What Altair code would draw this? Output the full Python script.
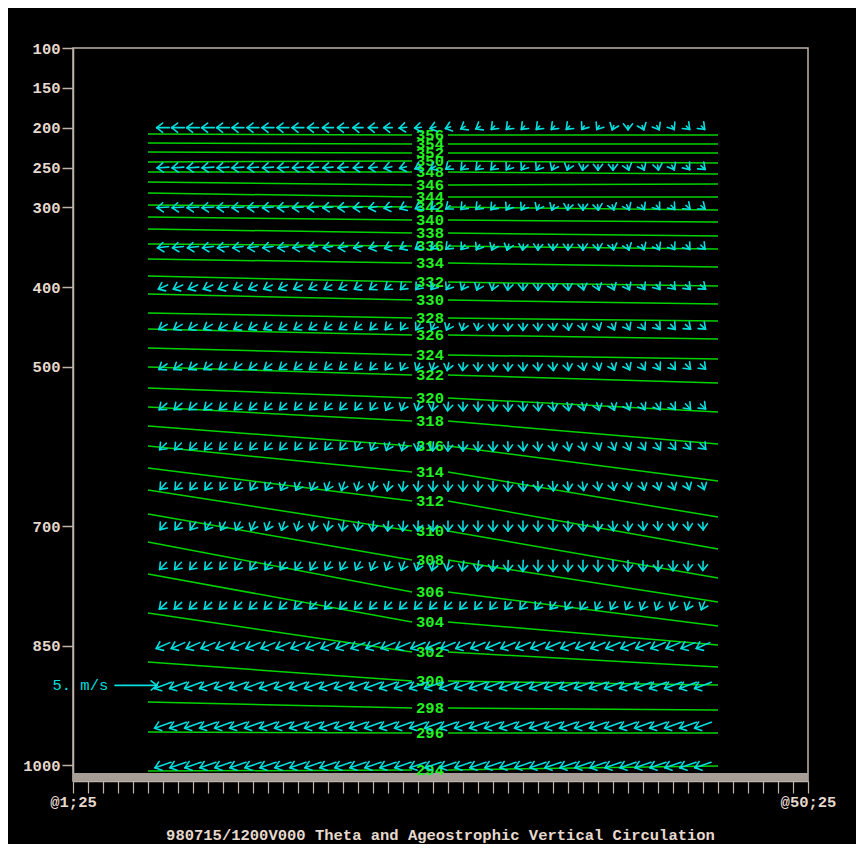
import math
import altair as alt
import pandas as pd

# ---------------- data ----------------
THETA = [356, 354, 352, 350, 348, 346, 344, 342, 340, 338, 336, 334, 332, 330, 328, 326,
         324, 322, 320, 318, 316, 314, 312, 310, 308, 306, 304, 302, 300, 298, 296, 294]
# pressure (hPa) of each isentrope at the left end, at the label and at the right end
P_LEFT = [207.9, 219.2, 230.5, 243.1, 255.6, 268.2, 282.0, 297.1, 312.1, 327.2, 346.0, 364.8, 386.2, 408.8, 432.6, 452.7,
          476.5, 500.4, 526.7, 550.6, 574.4, 599.5, 627.2, 654.8, 684.9, 720.0, 760.2, 809.2, 870.7, 920.9, 958.5, 1007.5]
P_MID = [209.2, 220.5, 231.8, 241.8, 255.6, 272.0, 287.0, 299.6, 315.9, 332.2, 348.5, 369.9, 393.7, 416.3, 438.9, 460.2,
         485.3, 510.4, 539.3, 568.2, 599.5, 632.2, 668.6, 706.2, 742.6, 782.8, 820.4, 858.1, 894.5, 928.4, 959.8, 1006.2]
P_RIGHT = [209.2, 220.5, 231.8, 244.3, 258.1, 270.7, 287.0, 303.3, 318.4, 336.0, 352.3, 374.9, 398.7, 421.3, 442.7, 465.2,
           490.3, 520.5, 556.9, 597.0, 643.5, 688.7, 728.8, 765.2, 795.3, 825.5, 849.3, 876.9, 899.5, 930.9, 959.8, 1001.2]
X_LEFT, X_GAP_L, X_LABEL, X_GAP_R, X_RIGHT = 6, 23.6, 24.8, 26.0, 44

VEC_COLS = list(range(7, 44))
VEC_LEVELS = [200, 250, 300, 350, 400, 450, 500, 550, 600, 650, 700, 750, 800, 850, 900, 950, 1000]

# ageostrophic circulation components (m/s, w positive upward)
U = {
    200: [-1.5, -1.5, -1.5, -1.5, -1.5, -1.4, -1.4, -1.4, -1.4, -1.4, -1.3, -1.3, -1.3,
          -1.2, -1.1, -1.0, -0.9, -0.8, -0.7, -0.6, -0.5, -0.5, -0.4, -0.4, -0.4, -0.4, -0.4,
          -0.4, -0.3, -0.3, -0.2, 0.0, 0.2, 0.3, 0.3, 0.4, 0.4],
    250: [-1.4, -1.4, -1.4, -1.4, -1.4, -1.4, -1.3, -1.3, -1.3, -1.3, -1.3, -1.2, -1.2,
          -1.1, -1.0, -0.9, -0.8, -0.7, -0.6, -0.5, -0.5, -0.5, -0.5, -0.4, -0.4, -0.4, -0.3,
          -0.2, -0.1, 0.0, 0.0, 0.2, 0.3, 0.1, 0.3, 0.4, 0.5],
    300: [-1.4, -1.4, -1.4, -1.4, -1.4, -1.4, -1.3, -1.3, -1.3, -1.3, -1.3, -1.2, -1.2,
          -1.1, -1.0, -0.9, -0.7, -0.6, -0.5, -0.5, -0.5, -0.5, -0.5, -0.4, -0.4, -0.3, -0.3,
          -0.1, 0.0, 0.1, 0.2, 0.3, 0.35, 0.4, 0.45, 0.5, 0.5],
    350: [-1.3, -1.3, -1.3, -1.3, -1.3, -1.2, -1.2, -1.2, -1.2, -1.2, -1.1, -1.1, -1.1,
          -1.0, -0.9, -0.8, -0.7, -0.6, -0.5, -0.5, -0.45, -0.4, -0.3, -0.2, -0.1, -0.05, 0.0,
          0.0, 0.05, 0.1, 0.15, 0.25, 0.3, 0.35, 0.4, 0.45, 0.5],
    400: [-1.1, -1.1, -1.1, -1.1, -1.1, -1.0, -1.0, -1.0, -1.0, -1.0, -0.9, -0.9, -0.9,
          -0.85, -0.8, -0.7, -0.6, -0.5, -0.45, -0.4, -0.35, -0.3, -0.2, -0.1, 0.0, 0.0, 0.05,
          0.1, 0.15, 0.25, 0.3, 0.35, 0.4, 0.45, 0.5, 0.55, 0.6],
    450: [-1.0, -1.0, -1.0, -1.0, -1.0, -0.95, -0.95, -0.95, -0.9, -0.9, -0.9, -0.85, -0.85,
          -0.8, -0.7, -0.65, -0.55, -0.5, -0.4, -0.35, -0.25, -0.15, -0.05, 0.0, 0.0, 0.05, 0.1,
          0.15, 0.2, 0.3, 0.35, 0.4, 0.45, 0.5, 0.55, 0.6, 0.6],
    500: [-0.95, -0.95, -0.95, -0.95, -0.9, -0.9, -0.9, -0.9, -0.85, -0.85, -0.85, -0.8, -0.8,
          -0.75, -0.7, -0.6, -0.5, -0.4, -0.3, -0.2, -0.1, 0.0, 0.0, 0.0, 0.05, 0.1, 0.1,
          0.15, 0.2, 0.3, 0.35, 0.4, 0.45, 0.5, 0.55, 0.6, 0.6],
    550: [-0.9, -0.9, -0.9, -0.9, -0.85, -0.85, -0.85, -0.8, -0.8, -0.8, -0.8, -0.75, -0.75,
          -0.7, -0.6, -0.5, -0.4, -0.3, -0.2, -0.1, 0.0, 0.0, 0.0, 0.05, 0.1, 0.1, 0.15,
          0.2, 0.25, 0.3, 0.35, 0.4, 0.45, 0.5, 0.55, 0.6, 0.6],
    600: [-0.8, -0.8, -0.8, -0.8, -0.8, -0.75, -0.75, -0.75, -0.75, -0.7, -0.7, -0.7, -0.7,
          -0.6, -0.5, -0.4, -0.3, -0.2, -0.1, -0.05, 0.0, 0.0, 0.0, 0.05, 0.1, 0.15, 0.2,
          0.25, 0.3, 0.35, 0.4, 0.45, 0.5, 0.55, 0.6, 0.6, 0.65],
    650: [-0.7, -0.7, -0.7, -0.7, -0.65, -0.65, -0.6, -0.6, -0.55, -0.5, -0.45, -0.4, -0.35,
          -0.3, -0.25, -0.2, -0.15, -0.1, -0.05, 0.0, 0.0, 0.0, 0.0, 0.0, 0.05, 0.05, 0.1,
          0.1, 0.15, 0.2, 0.2, 0.25, 0.3, 0.3, 0.35, 0.35, 0.3],
    700: [-0.7, -0.7, -0.65, -0.6, -0.55, -0.5, -0.45, -0.4, -0.35, -0.3, -0.25, -0.2, -0.2,
          -0.15, -0.15, -0.1, -0.1, -0.05, -0.05, 0.0, 0.0, 0.0, 0.0, 0.0, 0.0, 0.0, 0.0,
          0.0, 0.05, 0.05, 0.1, 0.1, 0.1, 0.1, 0.1, 0.1, 0.05],
    750: [-0.8, -0.8, -0.78, -0.76, -0.74, -0.72, -0.7, -0.68, -0.66, -0.64, -0.62, -0.6, -0.6,
          -0.55, -0.5, -0.45, -0.4, -0.35, -0.3, -0.25, -0.2, -0.15, -0.1, -0.05, -0.05, 0.0, 0.0,
          0.0, 0.0, 0.0, 0.0, 0.0, 0.0, 0.0, 0.0, -0.05, -0.05],
    800: [-0.85, -0.85, -0.85, -0.85, -0.85, -0.85, -0.85, -0.85, -0.85, -0.85, -0.8, -0.8, -0.8,
          -0.8, -0.8, -0.8, -0.8, -0.8, -0.8, -0.8, -0.75, -0.75, -0.7, -0.7, -0.7, -0.65, -0.65,
          -0.6, -0.6, -0.55, -0.55, -0.5, -0.5, -0.45, -0.45, -0.4, -0.4],
    850: [-1.6, -1.6, -1.6, -1.65, -1.65, -1.65, -1.65, -1.65, -1.65, -1.65, -1.65, -1.65, -1.65,
          -1.65, -1.65, -1.65, -1.65, -1.7, -1.7, -1.7, -1.7, -1.7, -1.7, -1.7, -1.7, -1.7, -1.7,
          -1.7, -1.7, -1.7, -1.7, -1.7, -1.7, -1.7, -1.65, -1.65, -1.6],
    900: [-2.0, -2.0, -2.0, -2.0, -2.0, -2.0, -2.0, -2.0, -2.0, -2.0, -2.0, -2.0, -2.0,
          -2.0, -2.0, -2.0, -2.0, -2.0, -2.0, -2.0, -2.0, -2.0, -2.0, -2.0, -2.0, -2.0, -2.0,
          -2.0, -2.0, -2.0, -2.0, -2.0, -2.0, -2.0, -2.0, -2.0, -2.0],
    950: [-2.0, -2.0, -2.0, -2.0, -2.0, -2.0, -2.0, -2.0, -2.0, -2.0, -2.0, -2.0, -2.0,
          -2.0, -2.0, -2.0, -2.0, -2.0, -2.0, -2.0, -2.0, -2.0, -2.0, -2.0, -2.0, -2.0, -2.0,
          -2.0, -2.0, -2.0, -2.0, -2.0, -2.0, -2.0, -2.0, -2.0, -2.0],
    1000: [-1.9, -1.9, -1.9, -1.9, -1.9, -1.9, -1.9, -1.9, -1.9, -1.9, -1.9, -1.9, -1.9,
           -1.9, -1.9, -1.9, -1.9, -1.9, -1.9, -1.9, -1.9, -1.9, -1.9, -1.9, -1.9, -1.9, -1.9,
           -1.9, -1.9, -1.9, -1.9, -1.9, -1.9, -1.9, -1.9, -1.9, -1.9],
}
W = {
    200: [0.0, 0.0, 0.0, 0.0, 0.0, 0.0, 0.0, 0.0, 0.0, 0.0, 0.0, 0.0, 0.0,
          0.0, 0.0, 0.0, -0.1, -0.1, -0.2, -0.2, -0.3, -0.3, -0.4, -0.4, -0.4, -0.4, -0.4,
          -0.4, -0.4, -0.45, -0.5, -0.5, -0.5, -0.5, -0.45, -0.4, -0.4],
    250: [-0.1, -0.1, -0.1, -0.1, -0.1, -0.1, -0.1, -0.1, -0.1, -0.1, -0.1, -0.1, -0.1,
          -0.1, -0.1, -0.2, -0.2, -0.3, -0.3, -0.4, -0.5, -0.5, -0.5, -0.55, -0.55, -0.6, -0.6,
          -0.6, -0.65, -0.65, -0.65, -0.6, -0.6, -0.6, -0.55, -0.5, -0.45],
    300: [-0.1, -0.1, -0.1, -0.1, -0.1, -0.1, -0.1, -0.1, -0.1, -0.1, -0.1, -0.1, -0.1,
          -0.1, -0.2, -0.2, -0.3, -0.3, -0.4, -0.4, -0.5, -0.5, -0.55, -0.6, -0.6, -0.6, -0.65,
          -0.65, -0.65, -0.65, -0.6, -0.6, -0.55, -0.5, -0.5, -0.45, -0.4],
    350: [-0.15, -0.15, -0.15, -0.15, -0.15, -0.15, -0.15, -0.15, -0.15, -0.15, -0.15, -0.15, -0.15,
          -0.2, -0.25, -0.3, -0.35, -0.4, -0.45, -0.5, -0.55, -0.6, -0.65, -0.7, -0.7, -0.7, -0.7,
          -0.7, -0.7, -0.7, -0.65, -0.65, -0.6, -0.6, -0.55, -0.55, -0.5],
    400: [-0.5, -0.5, -0.5, -0.5, -0.5, -0.5, -0.5, -0.5, -0.5, -0.5, -0.5, -0.5, -0.5,
          -0.5, -0.55, -0.55, -0.6, -0.6, -0.6, -0.6, -0.65, -0.7, -0.7, -0.75, -0.75, -0.75, -0.75,
          -0.75, -0.7, -0.7, -0.65, -0.65, -0.6, -0.6, -0.55, -0.55, -0.5],
    450: [-0.6, -0.6, -0.6, -0.6, -0.6, -0.6, -0.6, -0.6, -0.6, -0.6, -0.6, -0.6, -0.6,
          -0.6, -0.65, -0.65, -0.7, -0.7, -0.7, -0.75, -0.8, -0.8, -0.85, -0.85, -0.85, -0.85, -0.8,
          -0.8, -0.8, -0.75, -0.7, -0.7, -0.65, -0.6, -0.6, -0.55, -0.55],
    500: [-0.65, -0.65, -0.65, -0.65, -0.65, -0.65, -0.65, -0.65, -0.65, -0.65, -0.65, -0.65, -0.65,
          -0.7, -0.7, -0.75, -0.8, -0.8, -0.85, -0.9, -0.9, -0.95, -0.95, -0.95, -0.95, -0.9, -0.9,
          -0.9, -0.85, -0.85, -0.8, -0.75, -0.7, -0.7, -0.65, -0.6, -0.6],
    550: [-0.75, -0.75, -0.75, -0.75, -0.75, -0.75, -0.75, -0.75, -0.75, -0.75, -0.75, -0.75, -0.75,
          -0.8, -0.85, -0.9, -0.9, -0.95, -1.0, -1.0, -1.0, -1.05, -1.05, -1.05, -1.0, -1.0, -1.0,
          -0.95, -0.9, -0.9, -0.85, -0.8, -0.75, -0.75, -0.7, -0.65, -0.6],
    600: [-0.8, -0.8, -0.8, -0.8, -0.8, -0.8, -0.8, -0.8, -0.8, -0.8, -0.8, -0.8, -0.8,
          -0.9, -0.9, -0.95, -1.0, -1.0, -1.05, -1.1, -1.1, -1.1, -1.1, -1.1, -1.05, -1.05, -1.0,
          -1.0, -0.95, -0.9, -0.9, -0.85, -0.8, -0.8, -0.75, -0.7, -0.7],
    650: [-0.8, -0.8, -0.85, -0.85, -0.85, -0.9, -0.9, -0.9, -0.95, -0.95, -0.95, -1.0, -1.0,
          -1.0, -1.05, -1.1, -1.1, -1.15, -1.15, -1.15, -1.15, -1.15, -1.15, -1.15, -1.1, -1.1, -1.1,
          -1.05, -1.0, -1.0, -0.95, -0.9, -0.9, -0.85, -0.85, -0.8, -0.8],
    700: [-0.85, -0.85, -0.9, -0.9, -0.95, -0.95, -1.0, -1.0, -1.0, -1.05, -1.05, -1.1, -1.1,
          -1.1, -1.15, -1.15, -1.15, -1.2, -1.2, -1.2, -1.2, -1.2, -1.2, -1.2, -1.2, -1.2, -1.2,
          -1.15, -1.15, -1.1, -1.1, -1.05, -1.0, -1.0, -0.95, -0.95, -0.9],
    750: [-0.85, -0.85, -0.85, -0.85, -0.85, -0.9, -0.9, -0.9, -0.9, -0.9, -0.95, -0.95, -0.95,
          -0.95, -1.0, -1.0, -1.05, -1.05, -1.1, -1.1, -1.15, -1.2, -1.25, -1.25, -1.3, -1.3, -1.3,
          -1.3, -1.3, -1.3, -1.25, -1.25, -1.2, -1.2, -1.15, -1.1, -1.1],
    800: [-0.8, -0.8, -0.8, -0.8, -0.8, -0.8, -0.8, -0.8, -0.8, -0.8, -0.8, -0.8, -0.8,
          -0.8, -0.8, -0.8, -0.8, -0.8, -0.8, -0.8, -0.85, -0.85, -0.85, -0.85, -0.85, -0.85, -0.85,
          -0.9, -0.9, -0.9, -0.9, -0.9, -0.95, -0.95, -0.95, -0.95, -0.95],
    850: [-0.7, -0.7, -0.7, -0.7, -0.7, -0.7, -0.7, -0.7, -0.7, -0.7, -0.7, -0.7, -0.7,
          -0.7, -0.7, -0.7, -0.7, -0.7, -0.7, -0.7, -0.7, -0.7, -0.7, -0.7, -0.7, -0.7, -0.7,
          -0.7, -0.7, -0.7, -0.7, -0.7, -0.7, -0.7, -0.7, -0.7, -0.7],
    900: [-0.75, -0.75, -0.75, -0.75, -0.75, -0.75, -0.75, -0.75, -0.75, -0.75, -0.75, -0.75, -0.75,
          -0.75, -0.75, -0.75, -0.75, -0.75, -0.75, -0.75, -0.75, -0.75, -0.75, -0.75, -0.75, -0.75, -0.75,
          -0.75, -0.75, -0.75, -0.75, -0.75, -0.75, -0.75, -0.75, -0.75, -0.75],
    950: [-0.7, -0.7, -0.7, -0.7, -0.7, -0.7, -0.7, -0.7, -0.7, -0.7, -0.7, -0.7, -0.7,
          -0.7, -0.7, -0.7, -0.7, -0.7, -0.7, -0.7, -0.7, -0.7, -0.7, -0.7, -0.7, -0.7, -0.7,
          -0.7, -0.7, -0.7, -0.7, -0.7, -0.7, -0.7, -0.7, -0.7, -0.7],
    1000: [-0.65, -0.65, -0.65, -0.65, -0.65, -0.65, -0.65, -0.65, -0.65, -0.65, -0.65, -0.65, -0.65,
           -0.65, -0.65, -0.65, -0.65, -0.65, -0.65, -0.65, -0.65, -0.65, -0.65, -0.65, -0.65, -0.65, -0.65,
           -0.65, -0.65, -0.65, -0.65, -0.65, -0.65, -0.65, -0.65, -0.65, -0.65],
}

REF_SPEED = 5.0          # m/s reference vector
REF_LEVEL = 900
REF_X_END = 6.6
REF_LABEL = "5. m/s"
SURFACE_P = 1010
X_TICKS = list(range(1, 51))
Y_TICKS = [100, 150, 200, 250, 300, 400, 500, 700, 850, 1000]
TITLE = "980715/1200V000 Theta and Ageostrophic Vertical Circulation"

# ---------------- geometry helpers ----------------
PLOT_W, PLOT_H = 735, 733
X_DOM = [1, 50]
P_DOM = [100, 1020]
KX = PLOT_W / (X_DOM[1] - X_DOM[0])      # px per grid unit
KY = PLOT_H / (P_DOM[1] - P_DOM[0])      # px per hPa
REF_PX = 42.0
PX_PER_MS = REF_PX / REF_SPEED
HEAD = 7.5
HEAD_ANG = math.radians(38)


def arrow_rows(cx, cp, dxp, dyp, centered=True):
    if centered:
        tx, ty, hx, hy = -dxp / 2, -dyp / 2, dxp / 2, dyp / 2
    else:
        tx, ty, hx, hy = 0.0, 0.0, dxp, dyp
    segs = [(tx, ty, hx, hy)]
    L = math.hypot(dxp, dyp)
    if L > 0.01:
        bx, by = -dxp / L, -dyp / L
        for a in (HEAD_ANG, -HEAD_ANG):
            rx = bx * math.cos(a) - by * math.sin(a)
            ry = bx * math.sin(a) + by * math.cos(a)
            segs.append((hx, hy, hx + HEAD * rx, hy + HEAD * ry))
    return [dict(x=cx + a / KX, p=cp + b / KY, x2=cx + c / KX, p2=cp + d / KY) for a, b, c, d in segs]


vec_rows = []
for lev in VEC_LEVELS:
    for col, u, w in zip(VEC_COLS, U[lev], W[lev]):
        vec_rows += arrow_rows(col, lev, u * PX_PER_MS, -w * PX_PER_MS)
vec_df = pd.DataFrame(vec_rows)

ref_df = pd.DataFrame(arrow_rows(REF_X_END - REF_PX / KX, REF_LEVEL, REF_PX, 0.0, centered=False))
ref_txt = pd.DataFrame([dict(x=REF_X_END - REF_PX / KX - 0.45, p=REF_LEVEL, t=REF_LABEL)])

line_rows = []
for th, pl, pm, pr in zip(THETA, P_LEFT, P_MID, P_RIGHT):
    line_rows += [dict(seg=f"{th}L", o=0, x=X_LEFT, p=pl), dict(seg=f"{th}L", o=1, x=X_GAP_L, p=pm),
                  dict(seg=f"{th}R", o=0, x=X_GAP_R, p=pm), dict(seg=f"{th}R", o=1, x=X_RIGHT, p=pr)]
line_df = pd.DataFrame(line_rows)
lab_df = pd.DataFrame(dict(x=[X_LABEL] * len(THETA), p=P_MID, t=[str(t) for t in THETA]))

strip_df = pd.DataFrame([dict(x=X_DOM[0], x2=X_DOM[1], p=SURFACE_P, p2=P_DOM[1])])

# ---------------- styling ----------------
FONT = "Liberation Mono"
AXIS_COL = "#bfb2aa"
TXT_COL = "#e6d9ce"
GREEN = "#00d400"
LAB_GREEN = "#22f022"
CYAN = "#00dede"

xs = alt.Scale(domain=X_DOM, nice=False, zero=False)
ys = alt.Scale(domain=P_DOM, reverse=True, nice=False, zero=False)
x_axis = alt.Axis(values=X_TICKS, title=None, grid=False, tickSize=12, tickColor=AXIS_COL, tickWidth=1.2,
                  domainColor=AXIS_COL, domainWidth=1.5, labelColor=TXT_COL, labelFont=FONT,
                  labelFontSize=15.5, labelFontWeight="bold", labelPadding=1, labelFlush=False,
                  labelOverlap=False,
                  labelExpr="datum.value == 1 ? '@1;25' : (datum.value == 50 ? '@50;25' : '')")
y_axis = alt.Axis(values=Y_TICKS, title=None, grid=False, tickSize=11, tickColor=AXIS_COL, tickWidth=1.5,
                  domainColor=AXIS_COL, domainWidth=1.5, labelColor=TXT_COL, labelFont=FONT,
                  labelFontSize=15.5, labelFontWeight="bold", labelPadding=2, labelOverlap=False, format="d")


def X(f):
    return alt.X(f, type="quantitative", scale=xs, axis=x_axis)


def Y(f):
    return alt.Y(f, type="quantitative", scale=ys, axis=y_axis)


strip = alt.Chart(strip_df).mark_rect(color="#a69d97").encode(x=X("x"), x2="x2", y=Y("p"), y2="p2")
lines = alt.Chart(line_df).mark_line(color=GREEN, strokeWidth=1.5).encode(
    x=X("x"), y=Y("p"), detail="seg:N", order="o:Q")
labels = alt.Chart(lab_df).mark_text(color=LAB_GREEN, font=FONT, fontSize=15.5, fontWeight="bold",
                                     align="center", baseline="middle").encode(x=X("x"), y=Y("p"), text="t:N")
vectors = alt.Chart(vec_df).mark_rule(color=CYAN, strokeWidth=1.6, strokeCap="round").encode(
    x=X("x"), y=Y("p"), x2="x2", y2="p2")
ref_arrow = alt.Chart(ref_df).mark_rule(color=CYAN, strokeWidth=1.6, strokeCap="round").encode(
    x=X("x"), y=Y("p"), x2="x2", y2="p2")
ref_label = alt.Chart(ref_txt).mark_text(color=CYAN, font=FONT, fontSize=15.5, align="right",
                                         baseline="middle").encode(x=X("x"), y=Y("p"), text="t:N")

chart = alt.layer(strip, lines, labels, vectors, ref_arrow, ref_label).properties(
    width=PLOT_W, height=PLOT_H,
    autosize=alt.AutoSizeParams(type="none"),
    padding={"left": 65, "top": 40, "right": 48, "bottom": 63},
    background="#000000",
    title=alt.TitleParams(TITLE, orient="bottom", anchor="middle", font=FONT, fontSize=15.5,
                          fontWeight="bold", color=TXT_COL, offset=18),
).configure_view(stroke=AXIS_COL, strokeWidth=1.5)

chart.save("out.html", embed_options={"renderer": "svg", "actions": False})
